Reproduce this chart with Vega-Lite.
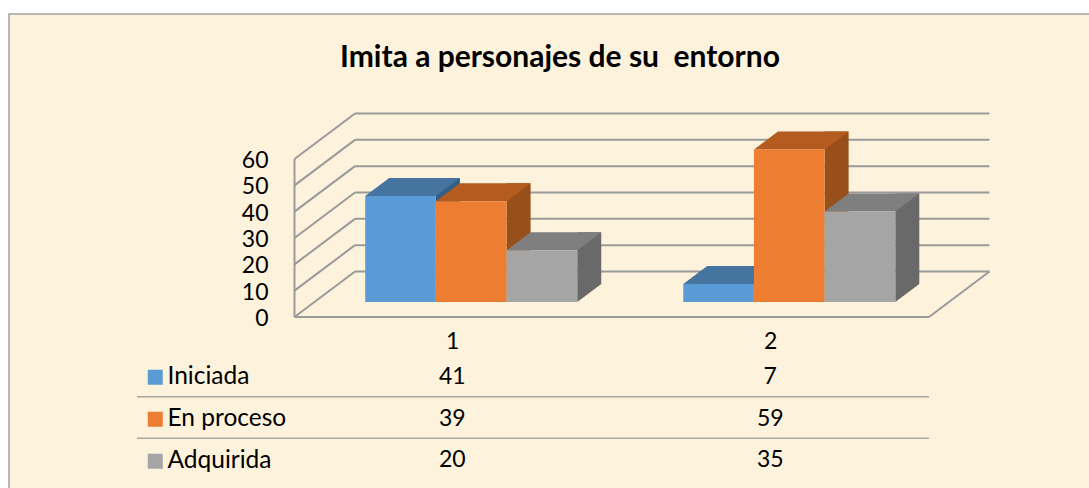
{
"$schema":"https://vega.github.io/schema/vega-lite/v6.json",
"width":1090,"height":480,
"padding":{"left":9,"top":14,"right":-10,"bottom":-6},
"autosize":{"type":"none"},
"background":"white",
"view":{"fill":"#fdf2dc","stroke":"#a3a3a3","strokeWidth":1.5},
"title":{"text":"Imita a personajes de su \u00a0entorno","font":"Lato","fontWeight":"bold","fontSize":30,"color":"#000000","anchor":"middle","frame":"group","dx":6,"offset":-59},
"config":{"font":"Lato"},
"datasets":{
"barras":[
{"grupo":"1","serie":"Iniciada","valor":41},
{"grupo":"1","serie":"En proceso","valor":39},
{"grupo":"1","serie":"Adquirida","valor":20},
{"grupo":"2","serie":"Iniciada","valor":7},
{"grupo":"2","serie":"En proceso","valor":59},
{"grupo":"2","serie":"Adquirida","valor":35}],
"marcas":[{"tick":0},{"tick":10},{"tick":20},{"tick":30},{"tick":40},{"tick":50},{"tick":60}]
},
"layer":[
{"data":{"name":"marcas"},"mark":{"type":"rule","stroke":"#9a9a9a","strokeWidth":2,"xOffset":60.5,"x2Offset":60.5,"yOffset":-45.5,"y2Offset":-45.5},
"encoding":{"x":{"datum":0,"type":"quantitative","scale":{"domain":[0,1],"range":[285.5,920]},"axis":null},"x2":{"datum":1},
"y":{"field":"tick","type":"quantitative","scale":{"domain":[0,60],"range":[303,145]},"axis":null},"y2":{"field":"tick"}}},
{"data":{"name":"marcas"},"mark":{"type":"rule","stroke":"#9a9a9a","strokeWidth":2,"x2Offset":60.5,"y2Offset":-45.5},
"encoding":{"x":{"datum":0,"type":"quantitative","scale":{"domain":[0,1],"range":[285.5,920]},"axis":null},"x2":{"datum":0},
"y":{"field":"tick","type":"quantitative","scale":{"domain":[0,60],"range":[303,145]},"axis":{"orient":"left","values":[0,10,20,30,40,50,60],"domain":false,"ticks":false,"grid":false,"title":null,"labelFont":"Lato","labelFontSize":23,"labelColor":"#000000","labelPadding":0,"labelOffset":1.5,"offset":-259}},"y2":{"field":"tick"}}},
{"data":{"values":[{"tick":0}]},"mark":{"type":"rule","stroke":"#9a9a9a","strokeWidth":2},
"encoding":{"x":{"datum":0,"type":"quantitative","scale":{"domain":[0,1],"range":[285.5,920]},"axis":null},"x2":{"datum":1},
"y":{"field":"tick","type":"quantitative","scale":{"domain":[0,60],"range":[303,145]},"axis":null}}},
{"data":{"values":[{"tick":0}]},"mark":{"type":"rule","stroke":"#9a9a9a","strokeWidth":2,"x2Offset":60.5,"y2Offset":-45.5},
"encoding":{"x":{"datum":1,"type":"quantitative","scale":{"domain":[0,1],"range":[285.5,920]},"axis":null},"x2":{"datum":1},
"y":{"field":"tick","type":"quantitative","scale":{"domain":[0,60],"range":[303,145]},"axis":null},"y2":{"field":"tick"}}},
{"data":{"values":[{"tick":0}]},"mark":{"type":"rule","stroke":"#9a9a9a","strokeWidth":2},
"encoding":{"x":{"datum":0,"type":"quantitative","scale":{"domain":[0,1],"range":[285.5,920]},"axis":null},
"y":{"datum":0,"type":"quantitative","scale":{"domain":[0,60],"range":[303,145]},"axis":null},"y2":{"datum":60}}},

{"data":{"name":"barras"},"mark":{"type":"rule","strokeWidth":24,"yOffset":-33,"y2Offset":-33},
"encoding":{"x":{"field":"grupo","type":"nominal","scale":{"domain":["1","2"],"range":[350.55,986.65],"paddingInner":0.3333,"paddingOuter":0.1667},"axis":null},
"xOffset":{"field":"serie","type":"nominal","scale":{"type":"band","domain":["Iniciada","En proceso","Adquirida"],"paddingInner":0,"paddingOuter":0}},
"y":{"field":"valor","type":"quantitative","scale":{"domain":[0,60],"range":[303,148]},"axis":null},"y2":{"datum":0},
"color":{"field":"serie","type":"nominal","scale":{"domain":["Iniciada","En proceso","Adquirida"],"range":["#335f86","#97501a","#696969"]},"legend":null}}},
{"data":{"name":"barras"},"mark":{"type":"point","shape":"M35.35,0 L59.35,-18 L35.35,-18 Z","size":4,"filled":true,"opacity":1,"yOffset":-15},
"encoding":{"x":{"field":"grupo","type":"nominal","scale":{"type":"band","domain":["1","2"],"range":[303.2,939.3],"paddingInner":0.3333,"paddingOuter":0.1667},"axis":null},
"xOffset":{"field":"serie","type":"nominal","scale":{"type":"band","domain":["Iniciada","En proceso","Adquirida"],"paddingInner":0,"paddingOuter":0}},
"y":{"datum":0,"type":"quantitative","scale":{"domain":[0,60],"range":[303,148]},"axis":null},
"color":{"field":"serie","type":"nominal","scale":{"domain":["Iniciada","En proceso","Adquirida"],"range":["#335f86","#97501a","#696969"]},"legend":null}}},
{"data":{"name":"barras"},"mark":{"type":"point","shape":"M-35.35,0 L35.35,0 L59.35,-18 L-11.35,-18 Z","size":4,"filled":true,"opacity":1,"yOffset":-15},
"encoding":{"x":{"field":"grupo","type":"nominal","scale":{"type":"band","domain":["1","2"],"range":[303.2,939.3],"paddingInner":0.3333,"paddingOuter":0.1667},"axis":null},
"xOffset":{"field":"serie","type":"nominal","scale":{"type":"band","domain":["Iniciada","En proceso","Adquirida"],"paddingInner":0,"paddingOuter":0}},
"y":{"field":"valor","type":"quantitative","scale":{"domain":[0,60],"range":[303,148]},"axis":null},
"color":{"field":"serie","type":"nominal","scale":{"domain":["Iniciada","En proceso","Adquirida"],"range":["#44749f","#b45b20","#7f7f7f"]},"legend":null}}},
{"data":{"name":"barras"},"mark":{"type":"bar","yOffset":-15,"y2Offset":-15},
"encoding":{"x":{"field":"grupo","type":"nominal","scale":{"domain":["1","2"],"range":[303.2,939.3],"paddingInner":0.3333,"paddingOuter":0.1667},"axis":null},
"xOffset":{"field":"serie","type":"nominal","scale":{"domain":["Iniciada","En proceso","Adquirida"],"paddingInner":0,"paddingOuter":0}},
"y":{"field":"valor","type":"quantitative","scale":{"domain":[0,60],"range":[303,148]},"axis":null},"y2":{"datum":0},
"color":{"field":"serie","type":"nominal","scale":{"domain":["Iniciada","En proceso","Adquirida"],"range":["#5b9bd5","#ed7d31","#a5a5a5"]},
"legend":{"orient":"none","legendX":134,"legendY":351,"title":null,"symbolType":"square","symbolSize":225,"symbolStrokeWidth":0,"symbolOpacity":1,"labelFont":"Lato","labelFontSize":24.5,"labelColor":"#000000","labelOffset":0,"rowPadding":17,"padding":0}}}},

{"data":{"name":"barras"},"transform":[{"filter":"datum.serie !== 'Adquirida' && datum.grupo === '1'"}],"mark":{"type":"rule","stroke":"#a8a8a0","strokeWidth":1.5},
"encoding":{"x":{"datum":0,"type":"quantitative","scale":{"domain":[0,1],"range":[128,920]},"axis":null},"x2":{"datum":1},
"y":{"field":"serie","type":"nominal","bandPosition":1,"scale":{"type":"band","domain":["Iniciada","En proceso","Adquirida"],"range":[341.25,465.75],"padding":0},"axis":null}}},
{"data":{"name":"barras"},"mark":{"type":"text","font":"Lato","fontSize":23,"color":"#000000","baseline":"middle","align":"center"},
"encoding":{"x":{"field":"grupo","type":"nominal","scale":{"domain":["1","2"],"range":[284.2,920.3],"paddingInner":0.3333,"paddingOuter":0.1667},
"axis":{"orient":"bottom","domain":false,"ticks":false,"grid":false,"title":null,"labelAngle":0,"labelFont":"Lato","labelFontSize":23,"labelColor":"#000000","labelPadding":0,"labelBaseline":"top","offset":-164}},
"y":{"field":"serie","type":"nominal","scale":{"type":"band","domain":["Iniciada","En proceso","Adquirida"],"range":[342,467],"padding":0},"axis":null},
"text":{"field":"valor","type":"quantitative"}}}
],
"resolve":{"scale":{"x":"independent","y":"independent","color":"independent","xOffset":"independent"}}
}
